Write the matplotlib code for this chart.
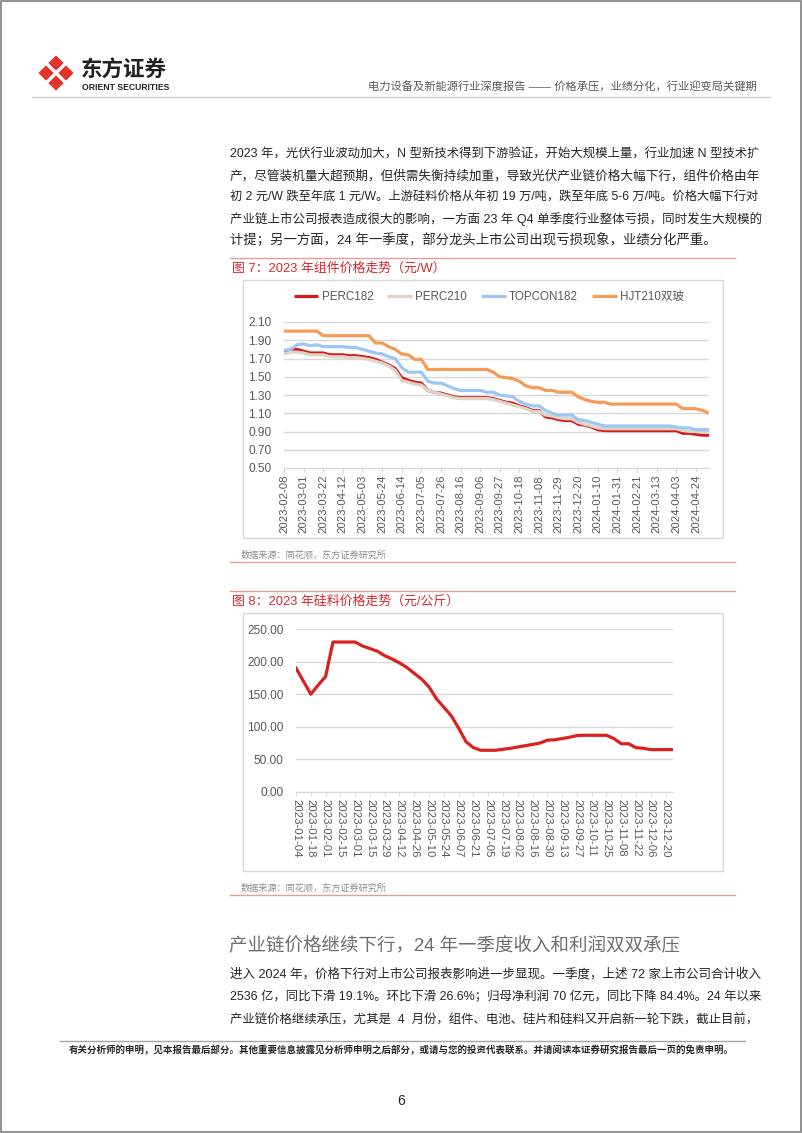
import matplotlib
matplotlib.use("Agg")
import matplotlib.pyplot as plt
from matplotlib.patches import Polygon, Rectangle

plt.rcParams['font.family'] = ['Liberation Sans', 'Noto Sans CJK SC', 'DejaVu Sans']

W, H = 802, 1133

# ---- chart 1 data: weekly module prices (yuan/W)
dates1 = ['2023-02-08', '2023-03-01', '2023-03-22', '2023-04-12', '2023-05-03',
          '2023-05-24', '2023-06-14', '2023-07-05', '2023-07-26', '2023-08-16',
          '2023-09-06', '2023-09-27', '2023-10-18', '2023-11-08', '2023-11-29',
          '2023-12-20', '2024-01-10', '2024-01-31', '2024-02-21', '2024-03-13',
          '2024-04-03', '2024-04-24']
perc182 = [1.77, 1.79, 1.80, 1.78, 1.76, 1.76, 1.76, 1.74, 1.74, 1.74,
           1.73, 1.73, 1.72, 1.71, 1.69, 1.66, 1.63, 1.59, 1.49, 1.46,
           1.44, 1.43, 1.35, 1.33, 1.32, 1.30, 1.28, 1.27, 1.27, 1.27,
           1.27, 1.27, 1.26, 1.24, 1.22, 1.21, 1.18, 1.16, 1.13, 1.13,
           1.06, 1.05, 1.03, 1.02, 1.02, 0.98, 0.97, 0.95, 0.92, 0.91,
           0.91, 0.91, 0.91, 0.91, 0.91, 0.91, 0.91, 0.91, 0.91, 0.91,
           0.91, 0.88, 0.88, 0.87, 0.86, 0.86]
perc210 = [1.75, 1.77, 1.77, 1.76, 1.74, 1.74, 1.74, 1.72, 1.72, 1.72,
           1.71, 1.71, 1.70, 1.69, 1.67, 1.65, 1.62, 1.57, 1.46, 1.44,
           1.42, 1.41, 1.35, 1.33, 1.31, 1.29, 1.27, 1.26, 1.26, 1.26,
           1.26, 1.26, 1.25, 1.23, 1.21, 1.19, 1.17, 1.15, 1.12, 1.12,
           1.08, 1.07, 1.05, 1.04, 1.04, 1.00, 0.98, 0.96, 0.94, 0.93,
           0.93, 0.93, 0.93, 0.93, 0.93, 0.93, 0.93, 0.93, 0.93, 0.93,
           0.93, 0.91, 0.90, 0.90, 0.89, 0.89]
topcon182 = [1.79, 1.80, 1.85, 1.86, 1.84, 1.85, 1.83, 1.83, 1.83, 1.83,
             1.82, 1.82, 1.80, 1.78, 1.76, 1.75, 1.72, 1.70, 1.60, 1.55,
             1.55, 1.55, 1.45, 1.43, 1.43, 1.40, 1.37, 1.35, 1.35, 1.35,
             1.35, 1.33, 1.33, 1.30, 1.29, 1.28, 1.23, 1.20, 1.18, 1.18,
             1.13, 1.10, 1.08, 1.08, 1.08, 1.03, 1.02, 1.00, 0.98, 0.96,
             0.96, 0.96, 0.96, 0.96, 0.96, 0.96, 0.96, 0.96, 0.96, 0.96,
             0.95, 0.94, 0.94, 0.92, 0.92, 0.92]
hjt210 = [2.00, 2.00, 2.00, 2.00, 2.00, 2.00, 1.95, 1.95, 1.95, 1.95,
          1.95, 1.95, 1.95, 1.95, 1.87, 1.87, 1.83, 1.80, 1.75, 1.74,
          1.69, 1.69, 1.58, 1.58, 1.58, 1.58, 1.58, 1.58, 1.58, 1.58,
          1.58, 1.58, 1.55, 1.50, 1.49, 1.48, 1.45, 1.40, 1.38, 1.38,
          1.35, 1.35, 1.33, 1.33, 1.33, 1.28, 1.25, 1.23, 1.22, 1.22,
          1.20, 1.20, 1.20, 1.20, 1.20, 1.20, 1.20, 1.20, 1.20, 1.20,
          1.20, 1.15, 1.15, 1.15, 1.13, 1.10]
names1 = ['PERC182', 'PERC210', 'TOPCON182', 'HJT210双玻']
colors1 = ['#d7191c', '#ddd5c5', '#9fc5f5', '#f79a58']

# ---- chart 2 data: weekly polysilicon price (yuan/kg)
dates2 = ['2023-01-04', '2023-01-18', '2023-02-01', '2023-02-15', '2023-03-01',
          '2023-03-15', '2023-03-29', '2023-04-12', '2023-04-26', '2023-05-10',
          '2023-05-24', '2023-06-07', '2023-06-21', '2023-07-05', '2023-07-19',
          '2023-08-02', '2023-08-16', '2023-08-30', '2023-09-13', '2023-09-27',
          '2023-10-11', '2023-10-25', '2023-11-08', '2023-11-22', '2023-12-06',
          '2023-12-20']
silicon = [190, 170, 150, 164, 177, 230, 230, 230, 230, 224,
           220, 216, 209, 204, 198, 191, 182, 173, 161, 143,
           130, 117, 98, 77, 68, 64, 64, 64, 65.5, 67,
           69, 71, 73, 75, 79.5, 80, 82, 84, 86.5, 87,
           87, 87, 87, 82, 74, 74, 68, 67, 65, 65,
           65, 65]

para1 = ["2023 年，光伏行业波动加大，N 型新技术得到下游验证，开始大规模上量，行业加速 N 型技术扩",
         "产，尽管装机量大超预期，但供需失衡持续加重，导致光伏产业链价格大幅下行，组件价格由年",
         "初 2 元/W 跌至年底 1 元/W。上游硅料价格从年初 19 万/吨，跌至年底 5-6 万/吨。价格大幅下行对",
         "产业链上市公司报表造成很大的影响，一方面 23 年 Q4 单季度行业整体亏损，同时发生大规模的",
         "计提；另一方面，24 年一季度，部分龙头上市公司出现亏损现象，业绩分化严重。"]
para2 = ["进入 2024 年，价格下行对上市公司报表影响进一步显现。一季度，上述 72 家上市公司合计收入",
         "2536 亿，同比下滑 19.1%。环比下滑 26.6%；归母净利润 70 亿元，同比下降 84.4%。24 年以来",
         "产业链价格继续承压，尤其是  4  月份，组件、电池、硅片和硅料又开启新一轮下跌，截止目前，"]

fig = plt.figure(figsize=(W / 100, H / 100), dpi=100)
renderer = fig.canvas.get_renderer()
bg = fig.add_axes([0, 0, 1, 1])
bg.set_xlim(0, W)
bg.set_ylim(H, 0)
bg.axis('off')

# page frame
bg.add_patch(Rectangle((0.5, 0.5), W - 1.5, H - 1.5, fill=False, ec='#7f7f7f', lw=1.2))

# logo
logo_red = '#e1322b'
for cx, cy in [(56, 63), (46, 73), (66, 73), (56, 83)]:
    r = 7.6
    bg.add_patch(Polygon([(cx, cy - r), (cx + r, cy), (cx, cy + r), (cx - r, cy)],
                         closed=True, fc=logo_red, ec='none'))
bg.text(81, 71, '东方证券', fontsize=15.5, fontweight='bold', color='#231f20', va='center', ha='left')
bg.text(82, 87, 'ORIENT SECURITIES', fontsize=6.2, fontweight='bold', color='#231f20',
        va='center', ha='left')
bg.text(757, 87, '电力设备及新能源行业深度报告 —— 价格承压，业绩分化，行业迎变局关键期',
        fontsize=8.1, color='#595959', va='center', ha='right')
bg.plot([32, 770], [97, 97], color='#d0d0d0', lw=1)


def paragraph(lines, x0, y0, step, right, n_full):
    # full lines are stretched to the right margin
    for k, line in enumerate(lines):
        t = bg.text(x0, y0 + k * step, line, fontsize=9.6, color='#262626', va='center', ha='left')
        if k < n_full:
            w = t.get_window_extent(renderer).width
            t.set_fontsize(9.6 * (right - x0) / w)


paragraph(para1, 230, 155, 21.3, 763, 4)

red_line = '#ee9a94'
title_red = '#d9262c'
src_grey = '#8c8c8c'

bg.plot([230, 735], [258, 258], color=red_line, lw=1)
bg.text(232, 269, '图 7：2023 年组件价格走势（元/W）', fontsize=9.3, color=title_red, va='center', ha='left')
bg.add_patch(Rectangle((243, 280), 480, 258, fill=False, ec='#d9d9d9', lw=1))
bg.text(241, 555, '数据来源：同花顺，东方证券研究所', fontsize=6.6, color=src_grey, va='center', ha='left')
bg.plot([230, 735], [562, 562], color=red_line, lw=1)

bg.plot([230, 735], [591, 591], color=red_line, lw=1)
bg.text(232, 602, '图 8：2023 年硅料价格走势（元/公斤）', fontsize=9.3, color=title_red, va='center', ha='left')
bg.add_patch(Rectangle((243, 613), 480, 258, fill=False, ec='#d9d9d9', lw=1))
bg.text(241, 888, '数据来源：同花顺，东方证券研究所', fontsize=6.6, color=src_grey, va='center', ha='left')
bg.plot([230, 735], [895, 895], color=red_line, lw=1)

# section heading and second paragraph
bg.text(229, 945, '产业链价格继续下行，24 年一季度收入和利润双双承压', fontsize=13.3, color='#6e6e6e',
        va='center', ha='left')
paragraph(para2, 230, 974, 23.3, 763, 3)

# footer
bg.plot([60, 745], [1041, 1041], color='#a6a6a6', lw=1)
bg.text(401, 1050, '有关分析师的申明，见本报告最后部分。其他重要信息披露见分析师申明之后部分，或请与您的投资代表联系。并请阅读本证券研究报告最后一页的免责申明。',
        fontsize=6.8, fontweight='bold', color='#262626', va='center', ha='center')
bg.text(401, 1101, '6', fontsize=10, color='#262626', va='center', ha='center')


def px_axes(left, top, right, bottom):
    return fig.add_axes([left / W, 1 - bottom / H, (right - left) / W, (bottom - top) / H])


tick_grey = '#595959'

# ---- chart 1
ax1 = px_axes(284, 322, 709, 468)
series1 = [perc182, perc210, topcon182, hjt210]
for vals, name, c in zip(series1, names1, colors1):
    ax1.plot(range(len(vals)), vals, color=c, lw=2.3, label=name, solid_capstyle='butt')
ax1.set_xlim(0, len(perc182) - 1)
ax1.set_ylim(0.5, 2.1)
ax1.set_yticks([0.5 + 0.2 * k for k in range(9)])
ax1.set_yticklabels([f'{0.5 + 0.2 * k:.2f}' for k in range(9)])
ax1.set_xticks(range(0, 3 * len(dates1), 3))
ax1.set_xticklabels(dates1, rotation=90)
ax1.grid(axis='y', color='#d9d9d9', lw=1)
ax1.set_axisbelow(True)
for s in ['top', 'right', 'left']:
    ax1.spines[s].set_visible(False)
ax1.spines['bottom'].set_color('#d9d9d9')
ax1.tick_params(axis='y', length=0, labelsize=8.6, labelcolor=tick_grey, pad=9)
ax1.tick_params(axis='x', length=3, color='#d9d9d9', labelsize=8.2, labelcolor=tick_grey, pad=2)
fig.legend(*ax1.get_legend_handles_labels(), loc='center', bbox_to_anchor=(489 / W, 1 - 297 / H),
           ncol=4, frameon=False, fontsize=8.4, labelcolor=tick_grey, handlelength=2.1,
           columnspacing=1.2, handletextpad=0.3)

# ---- chart 2
ax2 = px_axes(296, 629, 673, 792)
ax2.plot(range(len(silicon)), silicon, color='#d9211f', lw=2.3)
ax2.set_xlim(0, len(silicon) - 1)
ax2.set_ylim(0, 250)
ax2.set_yticks(range(0, 251, 50))
ax2.set_yticklabels([f'{v:.2f}' for v in range(0, 251, 50)])
ax2.set_xticks(range(0, 2 * len(dates2), 2))
ax2.set_xticklabels(dates2, rotation=-90)
ax2.grid(axis='y', color='#d9d9d9', lw=1)
ax2.set_axisbelow(True)
for s in ['top', 'right', 'left']:
    ax2.spines[s].set_visible(False)
ax2.spines['bottom'].set_color('#d9d9d9')
ax2.tick_params(axis='y', length=0, labelsize=8.6, labelcolor=tick_grey, pad=9)
ax2.tick_params(axis='x', length=3, color='#d9d9d9', labelsize=8.2, labelcolor=tick_grey, pad=2)

fig.savefig('out.png', dpi=100)
